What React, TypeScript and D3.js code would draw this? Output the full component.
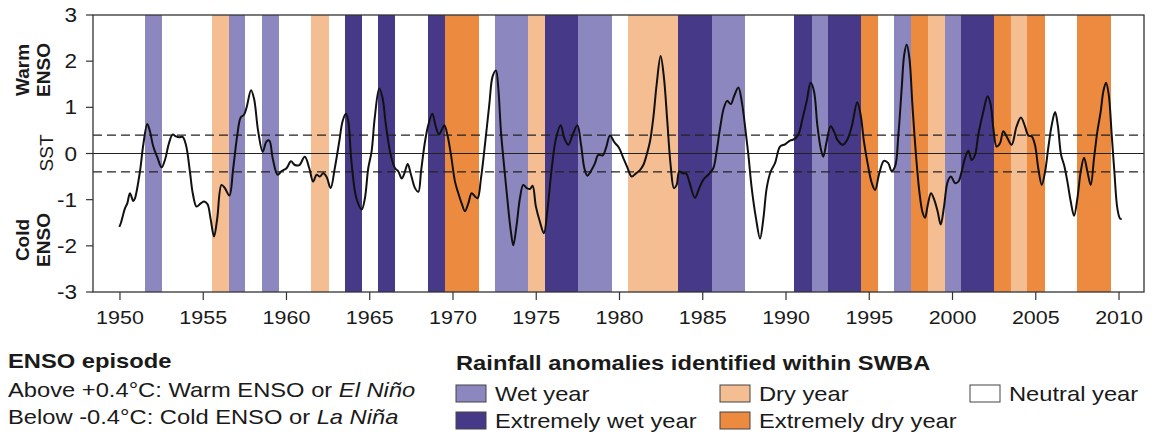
import React from "react";
import * as d3 from "d3";

// ---- data ----
const xTickYears = [1950, 1955, 1960, 1965, 1970, 1975, 1980, 1985, 1990, 1995, 2000, 2005, 2010];
const yTickValues = [-3, -2, -1, 0, 1, 2, 3];
const thresholds = [0.4, -0.4];

const wetYears = [1952, 1957, 1959, 1973, 1974, 1978, 1979, 1986, 1987, 1992, 1997, 2000];
const extremeWetYears = [1964, 1966, 1969, 1976, 1977, 1984, 1985, 1991, 1993, 1994, 2001, 2002];
const dryYears = [1956, 1962, 1975, 1981, 1982, 1983, 1999, 2004];
const extremeDryYears = [1970, 1971, 1995, 1998, 2003, 2005, 2008, 2009];

const sstYears = [
  1949.96, 1950.05, 1950.3, 1950.44, 1950.6, 1950.8, 1950.9, 1951.2, 1951.4, 1951.64, 1951.8, 1952.0,
  1952.26, 1952.5, 1952.7, 1952.94, 1953.16, 1953.36, 1953.56, 1953.76, 1953.96, 1954.2, 1954.37, 1954.6,
  1954.85, 1955.06, 1955.26, 1955.44, 1955.65, 1955.84, 1956.1, 1956.3, 1956.57, 1956.8, 1957.05, 1957.25,
  1957.45, 1957.6, 1957.87, 1958.05, 1958.3, 1958.57, 1958.8, 1958.97, 1959.17, 1959.47, 1959.71, 1960.0,
  1960.27, 1960.5, 1960.77, 1961.1, 1961.37, 1961.6, 1961.81, 1962.0, 1962.2, 1962.41, 1962.65, 1962.9,
  1963.17, 1963.37, 1963.57, 1963.71, 1963.9, 1964.2, 1964.52, 1964.71, 1964.91, 1965.11, 1965.3, 1965.57,
  1965.77, 1965.97, 1966.26, 1966.52, 1966.72, 1966.92, 1967.08, 1967.28, 1967.48, 1967.72, 1967.92, 1968.08,
  1968.32, 1968.52, 1968.76, 1968.96, 1969.16, 1969.32, 1969.48, 1969.66, 1969.88, 1970.12, 1970.32, 1970.52,
  1970.72, 1970.92, 1971.12, 1971.32, 1971.48, 1971.68, 1971.92, 1972.18, 1972.38, 1972.58, 1972.72, 1972.88,
  1973.12, 1973.32, 1973.48, 1973.62, 1973.82, 1974.02, 1974.22, 1974.43, 1974.62, 1974.78, 1974.98, 1975.22,
  1975.46, 1975.66, 1975.93, 1976.19, 1976.47, 1976.69, 1976.93, 1977.19, 1977.47, 1977.69, 1977.89, 1978.07,
  1978.27, 1978.53, 1978.72, 1978.99, 1979.19, 1979.43, 1979.7, 1979.96, 1980.23, 1980.47, 1980.73, 1980.99,
  1981.23, 1981.43, 1981.63, 1981.83, 1982.03, 1982.23, 1982.47, 1982.67, 1982.87, 1983.07, 1983.27, 1983.43,
  1983.59, 1983.8, 1984.0, 1984.19, 1984.53, 1984.79, 1985.03, 1985.33, 1985.63, 1985.83, 1986.04, 1986.27,
  1986.47, 1986.68, 1986.88, 1987.14, 1987.34, 1987.54, 1987.74, 1987.94, 1988.2, 1988.44, 1988.64, 1988.84,
  1989.08, 1989.34, 1989.64, 1989.94, 1990.24, 1990.5, 1990.74, 1991.0, 1991.24, 1991.48, 1991.68, 1991.88,
  1992.08, 1992.24, 1992.44, 1992.68, 1992.88, 1993.08, 1993.4, 1993.68, 1993.95, 1994.28, 1994.48, 1994.68,
  1994.88, 1995.15, 1995.35, 1995.6, 1995.88, 1996.14, 1996.34, 1996.55, 1996.75, 1996.95, 1997.1, 1997.25,
  1997.41, 1997.59, 1997.79, 1998.01, 1998.19, 1998.35, 1998.51, 1998.71, 1998.91, 1999.11, 1999.29, 1999.49,
  1999.71, 1999.91, 2000.15, 2000.35, 2000.55, 2000.75, 2000.95, 2001.15, 2001.35, 2001.55, 2001.85, 2002.11,
  2002.29, 2002.45, 2002.65, 2002.85, 2003.05, 2003.25, 2003.55, 2003.85, 2004.11, 2004.35, 2004.55, 2004.76,
  2004.95, 2005.15, 2005.36, 2005.56, 2005.75, 2005.96, 2006.16, 2006.32, 2006.52, 2006.7, 2006.9, 2007.1,
  2007.3, 2007.5, 2007.7, 2007.9, 2008.1, 2008.3, 2008.5, 2008.7, 2008.9, 2009.06, 2009.22, 2009.38,
  2009.56, 2009.72, 2009.9, 2010.06, 2010.16,
];
const sstValues = [
  -1.59, -1.51, -1.19, -1.08, -0.86, -1.03, -0.97, -0.39, 0.19, 0.64, 0.48, 0.15,
  -0.1, -0.3, -0.14, 0.22, 0.41, 0.37, 0.35, 0.36, 0.19, -0.39, -0.86, -1.15,
  -1.08, -1.04, -1.1, -1.41, -1.8, -1.41, -0.68, -0.75, -0.91, -0.32, 0.41, 0.78,
  0.84, 0.99, 1.37, 1.19, 0.48, 0.04, 0.26, 0.28, -0.1, -0.46, -0.38, -0.32,
  -0.17, -0.25, -0.25, -0.07, -0.32, -0.61, -0.46, -0.5, -0.43, -0.51, -0.75, -0.32,
  0.26, 0.7, 0.86, 0.7, -0.17, -0.97, -1.21, -0.97, -0.32, 0.04, 0.77, 1.41,
  1.2, 0.62, -0.03, -0.32, -0.39, -0.54, -0.43, -0.23, -0.46, -0.75, -0.83, -0.39,
  0.26, 0.62, 0.86, 0.59, 0.41, 0.51, 0.61, 0.41, -0.03, -0.61, -0.86, -1.08,
  -1.25, -1.08, -0.86, -0.93, -0.97, -0.54, 0.19, 1.06, 1.67, 1.8, 1.42, 0.48,
  -0.46, -1.19, -1.7, -1.99, -1.55, -0.97, -0.68, -0.75, -0.77, -0.7, -1.15, -1.48,
  -1.73, -1.26, -0.32, 0.33, 0.61, 0.33, 0.19, 0.41, 0.61, 0.19, -0.32, -0.48,
  -0.39, -0.21, -0.03, -0.04, 0.12, 0.39, 0.24, 0.13, -0.1, -0.3, -0.5, -0.43,
  -0.36, -0.25, -0.03, 0.26, 0.77, 1.49, 2.11, 1.64, 0.7, -0.25, -0.75, -0.68,
  -0.39, -0.43, -0.43, -0.61, -0.96, -0.75, -0.57, -0.46, -0.32, 0.04, 0.55, 0.99,
  1.14, 1.07, 1.24, 1.43, 1.13, 0.59, -0.03, -0.75, -1.41, -1.84, -1.41, -0.75,
  -0.39, -0.21, 0.15, 0.2, 0.28, 0.31, 0.41, 0.77, 1.13, 1.53, 1.35, 0.62,
  0.12, -0.07, 0.26, 0.59, 0.48, 0.3, 0.19, 0.3, 0.59, 1.11, 0.84, 0.26,
  -0.17, -0.64, -0.79, -0.43, -0.16, -0.21, -0.38, -0.28, 0.41, 1.42, 2.14, 2.36,
  2.07, 1.06, 0.04, -0.83, -1.26, -1.39, -1.12, -0.86, -1.01, -1.26, -1.54, -1.15,
  -0.61, -0.5, -0.64, -0.61, -0.39, -0.1, 0.06, -0.14, -0.03, 0.41, 0.91, 1.24,
  1.06, 0.55, 0.15, 0.22, 0.48, 0.37, 0.19, 0.59, 0.78, 0.59, 0.39, 0.37,
  0.19, -0.32, -0.68, -0.39, 0.12, 0.62, 0.9, 0.62, -0.03, -0.25, -0.61, -1.04,
  -1.35, -0.97, -0.39, -0.09, -0.39, -0.68, -0.1, 0.48, 0.91, 1.35, 1.53, 1.28,
  0.41, -0.39, -1.19, -1.41, -1.42,
];

const COLORS = {
  wet: "#8c87bf",
  extremeWet: "#463a88",
  dry: "#f4bd92",
  extremeDry: "#ec8a3f",
  neutral: "#ffffff",
};

const FONT = "'Liberation Sans', Arial, Helvetica, sans-serif";
const SX = 1.13;

const W = 1153;
const H = 437;
const plot = { left: 93, right: 1144, top: 15, bottom: 292 };

function T({ x, y, size, weight = "normal", anchor = "start", children, sx = SX }: any) {
  return (
    <text
      transform={`translate(${x},${y}) scale(${sx},1)`}
      fontSize={size}
      fontWeight={weight}
      textAnchor={anchor}
      fontFamily={FONT}
      fill="#1a1a1a"
    >
      {children}
    </text>
  );
}

function RotT({ x, y, size, weight = "normal", children }: any) {
  return (
    <text
      transform={`translate(${x},${y}) rotate(-90)`}
      fontSize={size}
      fontWeight={weight}
      textAnchor="middle"
      fontFamily={FONT}
      fill="#1a1a1a"
    >
      {children}
    </text>
  );
}

export default function App() {
  const x = d3.scaleLinear().domain([1948.38, 2011.5]).range([plot.left, plot.right]);
  const y = d3.scaleLinear().domain([-3, 3]).range([plot.bottom, plot.top]);

  const bands = [
    ...wetYears.map((yr) => ({ yr, c: COLORS.wet })),
    ...extremeWetYears.map((yr) => ({ yr, c: COLORS.extremeWet })),
    ...dryYears.map((yr) => ({ yr, c: COLORS.dry })),
    ...extremeDryYears.map((yr) => ({ yr, c: COLORS.extremeDry })),
  ];

  const pts: [number, number][] = sstYears.map((yr, i) => [yr, sstValues[i]]);
  const line = d3
    .line<[number, number]>()
    .x((d) => x(d[0]))
    .y((d) => y(d[1]))
    .curve(d3.curveCatmullRom.alpha(0.5));

  const legendItems = [
    { label: "Wet year", c: COLORS.wet, col: 0, row: 0 },
    { label: "Dry year", c: COLORS.dry, col: 1, row: 0 },
    { label: "Neutral year", c: COLORS.neutral, col: 2, row: 0 },
    { label: "Extremely wet year", c: COLORS.extremeWet, col: 0, row: 1 },
    { label: "Extremely dry year", c: COLORS.extremeDry, col: 1, row: 1 },
  ];
  const colX = [456, 720, 970];
  const rowY = [385, 412];

  return (
    <svg
      width={W}
      height={H}
      viewBox={`0 0 ${W} ${H}`}
      style={{ position: "absolute", left: 0, top: 0, display: "block", background: "#fff" }}
    >
      <rect x={0} y={0} width={W} height={H} fill="#fff" />
      {/* year bands */}
      <g shapeRendering="crispEdges">
        {bands.map((b, i) => (
          <rect
            key={i}
            x={x(b.yr - 0.5)}
            y={plot.top}
            width={x(b.yr + 0.5) - x(b.yr - 0.5) + 0.6}
            height={plot.bottom - plot.top}
            fill={b.c}
          />
        ))}
      </g>
      {/* zero and threshold lines */}
      <line x1={plot.left} x2={plot.right} y1={y(0)} y2={y(0)} stroke="#222" strokeWidth={1.2} />
      {thresholds.map((t) => (
        <line
          key={t}
          x1={plot.left}
          x2={plot.right}
          y1={y(t)}
          y2={y(t)}
          stroke="#222"
          strokeWidth={1.3}
          strokeDasharray="9,5"
        />
      ))}
      {/* SST line */}
      <path d={line(pts) || ""} fill="none" stroke="#111" strokeWidth={2} strokeLinejoin="round" />
      {/* frame */}
      <rect
        x={plot.left}
        y={plot.top}
        width={plot.right - plot.left}
        height={plot.bottom - plot.top}
        fill="none"
        stroke="#333"
        strokeWidth={1.3}
      />
      {/* y axis */}
      {yTickValues.map((v) => (
        <g key={v}>
          <line x1={plot.left - 7} x2={plot.left} y1={y(v)} y2={y(v)} stroke="#333" strokeWidth={1.2} />
          <T x={77} y={y(v) + 7} size={20} anchor="end">
            {String(v)}
          </T>
        </g>
      ))}
      {/* x axis */}
      {xTickYears.map((v) => (
        <g key={v}>
          <line x1={x(v)} x2={x(v)} y1={plot.bottom} y2={plot.bottom + 8} stroke="#333" strokeWidth={1.2} />
          <T x={x(v)} y={324} size={19} anchor="middle">
            {String(v)}
          </T>
        </g>
      ))}
      {/* y labels */}
      <RotT x={29} y={70} size={19} weight="bold">Warm</RotT>
      <RotT x={50} y={70} size={19} weight="bold">ENSO</RotT>
      <RotT x={53} y={153} size={19}>SST</RotT>
      <RotT x={29} y={240} size={19} weight="bold">Cold</RotT>
      <RotT x={50} y={240} size={19} weight="bold">ENSO</RotT>

      {/* ENSO legend */}
      <T x={8} y={368} size={21} weight="bold">ENSO episode</T>
      <T x={8} y={397} size={21}>
        Above +0.4°C: Warm ENSO or <tspan fontStyle="italic">El Niño</tspan>
      </T>
      <T x={8} y={424} size={21}>
        Below -0.4°C: Cold ENSO or <tspan fontStyle="italic">La Niña</tspan>
      </T>

      {/* Rainfall legend */}
      <T x={456} y={370} size={21} weight="bold">Rainfall anomalies identified within SWBA</T>
      {legendItems.map((it) => (
        <g key={it.label}>
          <rect
            x={colX[it.col]}
            y={rowY[it.row]}
            width={30}
            height={17}
            fill={it.c}
            stroke="#444"
            strokeWidth={1}
          />
          <T x={colX[it.col] + 39} y={rowY[it.row] + 16} size={21}>
            {it.label}
          </T>
        </g>
      ))}
    </svg>
  );
}
